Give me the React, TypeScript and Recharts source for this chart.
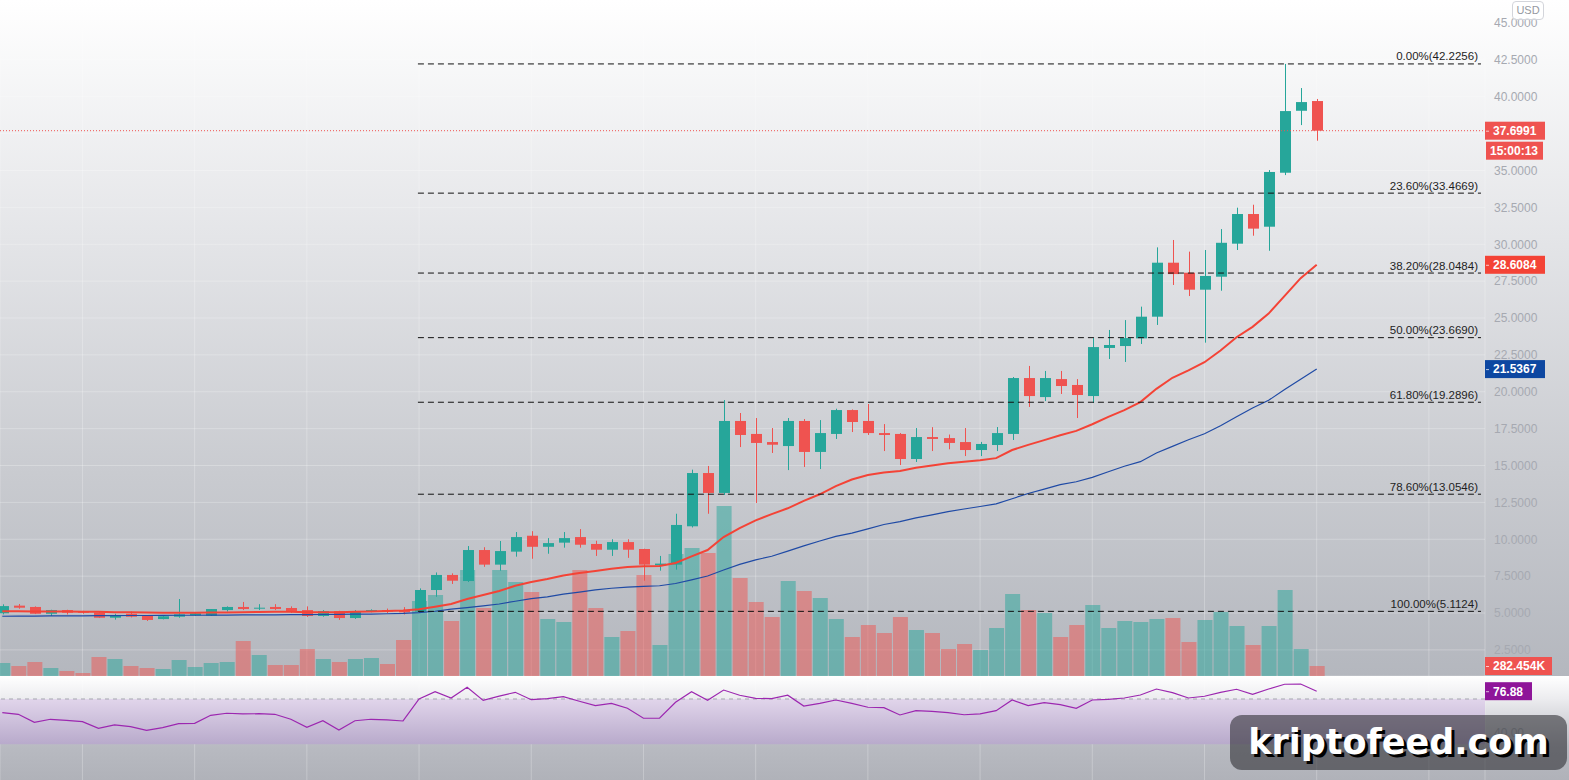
import React from "react";
import {
  ComposedChart,
  Bar,
  Line,
  XAxis,
  YAxis,
  CartesianGrid,
  ReferenceLine,
  ReferenceArea,
  Cell,
} from "recharts";

// daily candles
const opens = [
  4.98, 5.5, 5.41, 4.95, 5.2, 5.13, 5.04, 4.68, 4.95, 4.82, 4.59, 4.75, 4.84, 4.82, 5.2, 5.41, 5.32, 5.41, 5.34, 5.2,
  4.8, 5.13, 4.66, 5.09, 5.2, 5.2, 5.09, 6.56, 7.58, 7.17, 9.27, 8.28, 9.16, 10.24, 9.49, 9.77, 10.15, 9.68, 9.29, 9.81,
  9.34, 8.24, 8.28, 10.88, 14.49, 13.14, 18.02, 17.14, 16.59, 16.32, 18.02, 15.92, 17.14, 18.76, 18.02, 17.2, 17.14, 15.44, 16.93, 16.86,
  16.59, 16.05, 16.39, 17.14, 20.93, 19.64, 20.86, 20.46, 19.71, 22.97, 23.1, 23.62, 25.09, 28.75, 28.07, 26.92, 27.8, 30.04, 32.05, 31.19,
  34.85, 39.05, 39.71,
];
const highs = [
  5.59, 5.61, 5.45, 5.22, 5.22, 5.15, 5.06, 4.95, 5.1, 4.85, 4.85, 5.95, 5.0, 5.27, 5.45, 5.75, 5.6, 5.6, 5.45, 5.45,
  5.2, 5.15, 5.2, 5.25, 5.3, 5.4, 6.67, 7.75, 7.69, 9.54, 9.46, 9.88, 10.49, 10.55, 10.08, 10.49, 10.69, 9.9, 10.0, 10.0,
  9.36, 8.87, 11.73, 14.72, 14.97, 19.44, 18.56, 18.22, 17.54, 18.22, 18.15, 18.08, 18.85, 18.8, 19.17, 17.81, 17.2, 17.54, 17.6, 17.1,
  17.54, 16.6, 17.61, 21.0, 21.75, 21.41, 21.41, 20.86, 23.64, 24.19, 24.86, 25.77, 29.79, 30.29, 29.5, 29.61, 31.03, 32.48, 32.68, 35.03,
  42.2256, 40.59, 39.85,
];
const lows = [
  4.91, 5.29, 4.93, 4.8, 4.9, 4.95, 4.66, 4.55, 4.7, 4.46, 4.57, 4.68, 4.8, 4.8, 5.1, 5.2, 5.2, 5.2, 5.0, 4.73,
  4.75, 4.53, 4.6, 5.05, 5.0, 4.9, 5.05, 6.1, 6.97, 7.1, 8.13, 7.87, 8.82, 8.68, 9.02, 9.43, 9.43, 8.87, 8.87, 8.74,
  7.19, 7.87, 7.94, 10.8, 11.73, 13.0, 16.25, 12.46, 15.85, 14.69, 14.9, 14.76, 16.8, 17.27, 17.07, 15.98, 15.03, 15.24, 15.98, 16.1,
  15.64, 15.64, 15.98, 16.73, 18.97, 19.37, 19.85, 18.22, 19.24, 22.22, 22.02, 23.24, 24.53, 27.24, 26.49, 23.33, 26.85, 29.61, 30.58, 29.56,
  34.69, 38.08, 37.02,
];
const closes = [
  5.47, 5.36, 4.95, 5.2, 5.02, 5.02, 4.68, 4.86, 4.75, 4.53, 4.78, 4.91, 4.98, 5.27, 5.41, 5.27, 5.36, 5.27, 5.09, 4.8,
  5.13, 4.66, 5.13, 5.2, 5.09, 5.05, 6.56, 7.58, 7.19, 9.27, 8.28, 9.2, 10.15, 9.49, 9.74, 10.08, 9.63, 9.29, 9.81, 9.29,
  8.28, 8.35, 10.97, 14.49, 13.14, 18.02, 17.07, 16.53, 16.41, 18.02, 15.92, 17.2, 18.76, 17.95, 17.2, 17.07, 15.44, 16.93, 16.8, 16.53,
  16.05, 16.46, 17.2, 20.93, 19.71, 20.93, 20.39, 19.78, 23.03, 23.17, 23.64, 25.09, 28.75, 27.98, 26.92, 27.85, 30.1, 32.05, 31.06, 34.9,
  39.03, 39.64, 37.6991,
];
// volume in thousands
const volumes = [
  367, 282, 395, 226, 141, 85, 537, 480, 282, 226, 198, 452, 254, 367, 395, 989, 593, 311, 311, 763,
  480, 395, 480, 508, 339, 1017, 2118, 2288, 1553, 2994, 1921, 2994, 2655, 2373, 1610, 1525, 2994, 1921, 1102, 1271,
  2853, 876, 3446, 3615, 3474, 4802, 2768, 2090, 1666, 2683, 2401, 2203, 1610, 1102, 1440, 1215, 1666, 1299, 1215, 763,
  904, 734, 1356, 2316, 1864, 1779, 1102, 1440, 2005, 1356, 1553, 1525, 1610, 1638, 960, 1582, 1808, 1412, 876, 1412,
  2429, 763, 282.454,
];
const emaFast = [
  5.12, 5.12, 5.11, 5.1, 5.1, 5.09, 5.08, 5.06, 5.05, 5.03, 5.02, 5.02, 5.02, 5.03, 5.04, 5.06, 5.07, 5.08, 5.08, 5.06,
  5.06, 5.05, 5.08, 5.1, 5.13, 5.17, 5.25, 5.43, 5.61, 5.95, 6.22, 6.49, 6.85, 7.1, 7.3, 7.55, 7.72, 7.85, 8.0, 8.12,
  8.17, 8.19, 8.39, 8.84, 9.27, 10.15, 10.75, 11.28, 11.7, 12.1, 12.6, 13.05, 13.6, 14.05, 14.35, 14.52, 14.63, 14.85, 15.0, 15.15,
  15.25, 15.35, 15.5, 16.05, 16.4, 16.72, 17.05, 17.35, 17.8, 18.3, 18.75, 19.3, 20.2, 20.95, 21.45, 22.0, 22.8, 23.7, 24.4, 25.3,
  26.5, 27.7, 28.6084,
];
const emaSlow = [
  4.78, 4.79, 4.79, 4.8, 4.81, 4.81, 4.82, 4.82, 4.83, 4.83, 4.84, 4.85, 4.85, 4.86, 4.86, 4.87, 4.88, 4.88, 4.89, 4.89,
  4.9, 4.91, 4.92, 4.93, 4.95, 4.97, 5.02, 5.12, 5.26, 5.36, 5.48, 5.61, 5.8, 5.98, 6.1, 6.28, 6.42, 6.57, 6.68, 6.76,
  6.8, 6.85, 7.0, 7.25, 7.51, 7.92, 8.3, 8.6, 8.85, 9.2, 9.55, 9.88, 10.2, 10.42, 10.7, 11.0, 11.2, 11.45, 11.65, 11.87,
  12.05, 12.22, 12.4, 12.75, 13.1, 13.4, 13.7, 13.9, 14.2, 14.58, 14.95, 15.26, 15.85, 16.3, 16.75, 17.15, 17.7, 18.3, 18.9, 19.42,
  20.15, 20.85, 21.5367,
];
const rsiValues = [
  57.9, 56.5, 49.4, 52.1, 51.2, 50.0, 44.1, 47.1, 45.6, 42.4, 44.7, 48.2, 48.5, 55.6, 57.4, 56.8, 57.0, 56.5, 52.1, 45.0,
  50.8, 42.6, 50.8, 52.1, 51.5, 50.6, 70.0, 76.5, 70.9, 80.3, 68.8, 72.6, 75.9, 69.4, 70.3, 72.0, 68.0, 64.1, 66.2, 61.8,
  53.0, 53.0, 67.1, 76.5, 68.8, 77.9, 73.3, 70.6, 70.3, 73.4, 63.8, 66.2, 69.1, 66.2, 62.7, 62.4, 55.9, 59.7, 59.1, 57.9,
  56.1, 56.9, 59.7, 69.1, 64.1, 66.8, 65.0, 61.8, 69.1, 69.7, 70.9, 73.5, 78.8, 75.6, 70.9, 72.4, 75.9, 78.6, 74.1, 78.8,
  83.0, 83.2, 76.88,
];

const priceTicks = [2.5, 5, 7.5, 10, 12.5, 15, 17.5, 20, 22.5, 25, 27.5, 30, 32.5, 35, 37.5, 40, 42.5, 45];
const rsiTicks = [40];
const weekTicks = [5, 12, 19, 26, 33, 40, 47, 54, 61, 68, 75, 82, 89];
const fibPcts = ["0.00%", "23.60%", "38.20%", "50.00%", "61.80%", "78.60%", "100.00%"];
const fibPrices = [42.2256, 33.4669, 28.0484, 23.669, 19.2896, 13.0546, 5.1124];
const fibFrom = 25.93;
const fibTo = 92.25;
const countdown = "15:00:13";

const UP = "#26a69a";
const DOWN = "#ef5350";
const FONT = "'Liberation Sans', Arial, sans-serif";
const X_DOMAIN = [-0.1435, 92.5];
const PRICE_DOMAIN = [0.73, 46.56];
const VOL_DOMAIN = [0, 19094];

const rows = opens.map((o, i) => ({
  i,
  o,
  h: highs[i],
  l: lows[i],
  c: closes[i],
  v: volumes[i],
  fast: emaFast[i],
  slow: emaSlow[i],
  rsi: rsiValues[i],
}));
const last = rows[rows.length - 1];

function Candle(props: any) {
  const { x, y, width, height, payload } = props;
  const { o, h, l, c } = payload;
  const top = Math.min(y, y + height);
  const len = Math.abs(height);
  const k = len / (h - l);
  const bTop = top + (h - Math.max(o, c)) * k;
  const bBot = top + (h - Math.min(o, c)) * k;
  const cx = Math.round(x + width / 2) + 0.5;
  const color = c >= o ? UP : DOWN;
  return (
    <g>
      <line x1={cx} x2={cx} y1={top} y2={top + len} stroke={color} strokeWidth={1} />
      <rect x={cx - 5.5} y={bTop} width={11} height={Math.max(1, bBot - bTop)} fill={color} />
    </g>
  );
}

const tag = (text: string, bg: string, w: number, sub?: string) => (props: any) => {
  const vb = props.viewBox;
  const x0 = vb.x + vb.width;
  const cy = vb.y;
  return (
    <g>
      <rect x={x0} y={cy - 9} width={w} height={18} fill={bg} />
      <line x1={x0 + 1} x2={x0 + 4} y1={cy + 0.5} y2={cy + 0.5} stroke="#fff" strokeOpacity={0.7} />
      <text x={x0 + 8} y={cy} dy="0.36em" fill="#fff" fontSize={12} fontWeight={700} fontFamily={FONT}>
        {text}
      </text>
      {sub && (
        <g>
          <rect x={x0 + 1} y={cy + 11} width={w - 3} height={18} fill={bg} />
          <text x={x0 + 5} y={cy + 20} dy="0.36em" fill="#fff" fontSize={12} fontWeight={700} fontFamily={FONT}>
            {sub}
          </text>
        </g>
      )}
    </g>
  );
};

const fibLabel = (text: string) => (props: any) => {
  const vb = props.viewBox;
  return (
    <text x={vb.x + vb.width - 3} y={vb.y - 3.5} textAnchor="end" fontSize={11.5} fill="#1e1e1e" fontFamily={FONT}>
      {text}
    </text>
  );
};

const axisTick = { fill: "#a6a9b1", fontSize: 12, fontFamily: FONT };
const noMargin = { top: 0, right: 0, bottom: 0, left: 0 };

export default function App() {
  return (
    <div style={{ position: "absolute", left: 0, top: 0, width: 1569, height: 780, overflow: "hidden" }}>
      <style>{`body{margin:0}`}</style>
      <div
        style={{
          position: "absolute",
          left: 0,
          top: 0,
          width: 1569,
          height: 676,
          background: "linear-gradient(to bottom, #ffffff 0%, #e4e5e8 35%, #c9cbd0 70%, #b4b7be 100%)",
        }}
      />
      <div
        style={{
          position: "absolute",
          left: 0,
          top: 676,
          width: 1569,
          height: 104,
          background: "linear-gradient(to bottom, #ffffff 0%, #ececef 22%, #b8bac1 68%, #b0b2b9 100%)",
        }}
      />
      <div style={{ position: "absolute", left: 0, top: 0 }}>
        <ComposedChart width={1569} height={676} data={rows} margin={noMargin}>
          <CartesianGrid xAxisId="c" yAxisId="price" stroke="#ffffff" strokeOpacity={0.25} />
          <XAxis xAxisId="c" dataKey="i" type="number" domain={X_DOMAIN} ticks={weekTicks} allowDataOverflow hide />
          <XAxis xAxisId="v" dataKey="i" type="number" domain={X_DOMAIN} allowDataOverflow hide />
          <YAxis
            yAxisId="price"
            orientation="right"
            width={84}
            domain={PRICE_DOMAIN}
            ticks={priceTicks}
            allowDataOverflow
            axisLine={false}
            tickLine={false}
            tickMargin={3}
            tick={axisTick}
            tickFormatter={(v: number) => v.toFixed(4)}
          />
          <YAxis yAxisId="vol" hide domain={VOL_DOMAIN} allowDataOverflow />
          <Bar xAxisId="v" yAxisId="vol" dataKey="v" barSize={15} fillOpacity={0.5} isAnimationActive={false}>
            {rows.map((r) => (
              <Cell key={r.i} fill={r.c >= r.o ? UP : DOWN} />
            ))}
          </Bar>
          <Bar
            xAxisId="c"
            yAxisId="price"
            dataKey={(d: any) => [d.l, d.h]}
            barSize={11}
            shape={Candle}
            isAnimationActive={false}
          />
          <Line xAxisId="c" yAxisId="price" dataKey="slow" stroke="#1f4aa5" strokeWidth={1.2} dot={false} isAnimationActive={false} />
          <Line xAxisId="c" yAxisId="price" dataKey="fast" stroke="#f44336" strokeWidth={2} dot={false} isAnimationActive={false} />
          {fibPrices.map((p, k) => (
            <ReferenceLine
              key={p}
              xAxisId="c"
              yAxisId="price"
              segment={[
                { x: fibFrom, y: p },
                { x: fibTo, y: p },
              ]}
              stroke="#111"
              strokeDasharray="6 4"
              label={fibLabel(`${fibPcts[k]}(${p.toFixed(4)})`)}
            />
          ))}
        </ComposedChart>
      </div>
      {/* price tags sit above the axis labels */}
      <div style={{ position: "absolute", left: 0, top: 0 }}>
        <ComposedChart width={1569} height={676} data={rows} margin={{ top: 0, right: 84, bottom: 0, left: 0 }}>
          <XAxis dataKey="i" type="number" domain={X_DOMAIN} allowDataOverflow hide />
          <YAxis yAxisId="price" hide domain={PRICE_DOMAIN} allowDataOverflow />
          <YAxis yAxisId="vol" hide domain={VOL_DOMAIN} allowDataOverflow />
          <ReferenceLine
            yAxisId="price"
            y={last.c}
            stroke={DOWN}
            strokeDasharray="1 2"
            label={tag(last.c.toFixed(4), DOWN, 60, countdown)}
          />
          <ReferenceLine yAxisId="price" y={last.fast} strokeOpacity={0} label={tag(last.fast.toFixed(4), "#f44336", 60)} />
          <ReferenceLine yAxisId="price" y={last.slow} strokeOpacity={0} label={tag(last.slow.toFixed(4), "#0d47a1", 60)} />
          <ReferenceLine yAxisId="vol" y={last.v} strokeOpacity={0} label={tag(`${last.v.toFixed(3)}K`, DOWN, 67)} />
        </ComposedChart>
      </div>
      <div style={{ position: "absolute", left: 0, top: 676 }}>
        <ComposedChart width={1569} height={104} data={rows} margin={noMargin}>
          <defs>
            <linearGradient id="rsiBand" x1="0" y1="0" x2="0" y2="1">
              <stop offset="0%" stopColor="#e1d5eb" />
              <stop offset="100%" stopColor="#b8aacb" />
            </linearGradient>
          </defs>
          <XAxis dataKey="i" type="number" domain={X_DOMAIN} ticks={weekTicks} allowDataOverflow hide />
          <YAxis
            orientation="right"
            width={84}
            domain={[-1.5, 90.3]}
            ticks={rsiTicks}
            allowDataOverflow
            axisLine={false}
            tickLine={false}
            tickMargin={3}
            tick={axisTick}
            tickFormatter={(v: number) => v.toFixed(2)}
          />
          <ReferenceArea y1={30} y2={70} fill="url(#rsiBand)" fillOpacity={1} stroke="none" />
          <CartesianGrid horizontal={false} stroke="#ffffff" strokeOpacity={0.25} />
          <ReferenceLine y={70} stroke="#9598a1" strokeDasharray="4 4" strokeOpacity={0.8} />
          <Line dataKey="rsi" stroke="#9c27b0" strokeWidth={1.2} dot={false} isAnimationActive={false} />
          <ReferenceLine y={last.rsi} strokeOpacity={0} label={tag(last.rsi.toFixed(2), "#8e1599", 47)} />
        </ComposedChart>
      </div>
      <div
        style={{
          position: "absolute",
          left: 1512,
          top: 1,
          width: 30,
          height: 17,
          border: "1px solid #d3d5db",
          borderRadius: 4,
          background: "rgba(255,255,255,0.7)",
          color: "#9598a1",
          fontFamily: FONT,
          fontSize: 11,
          lineHeight: "17px",
          textAlign: "center",
        }}
      >
        USD
      </div>
      <div
        style={{
          position: "absolute",
          left: 1230,
          top: 715,
          width: 337,
          height: 55,
          borderRadius: 12,
          background: "rgba(40,40,46,0.57)",
          color: "#fff",
          fontFamily: "'DejaVu Sans', sans-serif",
          fontWeight: 700,
          fontSize: 35,
          lineHeight: "55px",
          textAlign: "center",
          textShadow: "3px 3px 0 #000",
        }}
      >
        kriptofeed.com
      </div>
    </div>
  );
}
